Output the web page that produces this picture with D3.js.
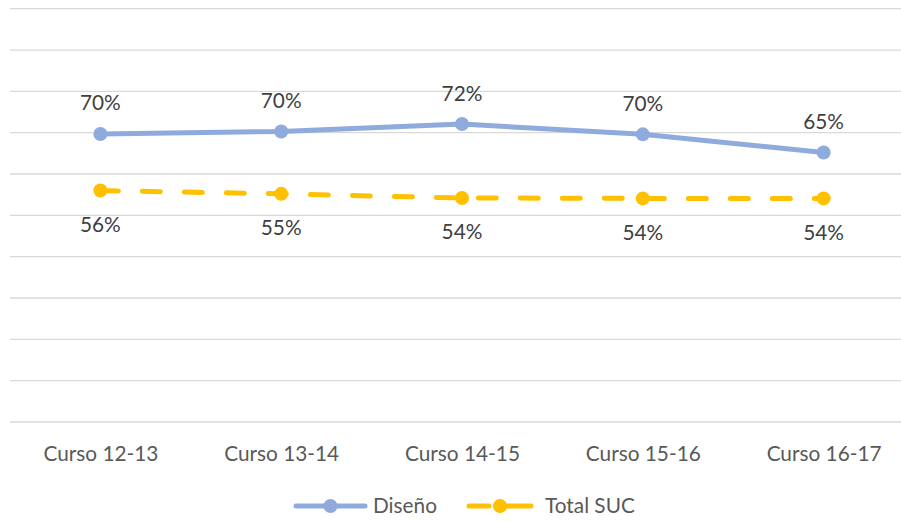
<!DOCTYPE html>
<html>
<head>
<meta charset="utf-8">
<script src="https://cdn.jsdelivr.net/npm/d3@7"></script>
<style>
  body { margin: 0; background: #fff; }
  svg { display: block; font-family: Lato, "Open Sans", sans-serif; }
</style>
</head>
<body>
<svg width="901" height="521"></svg>
<script>
// chart data
var categories = ["Curso 12-13", "Curso 13-14", "Curso 14-15", "Curso 15-16", "Curso 16-17"];
var diseno = [0.697, 0.703, 0.721, 0.696, 0.652];
var totalSuc = [0.560, 0.552, 0.542, 0.541, 0.541];
var seriesNames = ["Diseño", "Total SUC"];
var yTicks = [0, 0.1, 0.2, 0.3, 0.4, 0.5, 0.6, 0.7, 0.8, 0.9, 1];

var svg = d3.select("svg");

var x = d3.scalePoint()
  .domain(categories)
  .range([10, 914])
  .padding(0.5);

var y = d3.scaleLinear()
  .domain([0, 1])
  .range([422, 8.7]);

// gridlines
svg.append("g")
  .selectAll("line")
  .data(yTicks)
  .enter().append("line")
  .attr("x1", 10)
  .attr("x2", 901)
  .attr("y1", function(d) { return y(d); })
  .attr("y2", function(d) { return y(d); })
  .attr("stroke", "#d9d9d9")
  .attr("stroke-width", 1.3);

// category labels
var xAxis = svg.append("g")
  .attr("transform", "translate(0,422)")
  .call(d3.axisBottom(x).tickSize(0).tickPadding(0));
xAxis.select(".domain").remove();
xAxis.selectAll("text")
  .attr("dy", null)
  .attr("y", 38.7)
  .style("font-family", "Lato, sans-serif")
  .style("font-size", "20.8px")
  .style("fill", "#595959");

var line = d3.line()
  .x(function(d, i) { return x(categories[i]); })
  .y(function(d) { return y(d); });

var series = [
  { name: seriesNames[0], values: diseno, color: "#8faadc", dash: null, dy: -23.5 },
  { name: seriesNames[1], values: totalSuc, color: "#ffc000", dash: "18,24", dy: 41.5 }
];

series.forEach(function(s) {
  svg.append("path")
    .datum(s.values)
    .attr("d", line)
    .attr("fill", "none")
    .attr("stroke", s.color)
    .attr("stroke-width", 5)
    .attr("stroke-linecap", "round")
    .attr("stroke-dasharray", s.dash);

  svg.append("g")
    .selectAll("circle")
    .data(s.values)
    .enter().append("circle")
    .attr("cx", function(d, i) { return x(categories[i]); })
    .attr("cy", function(d) { return y(d); })
    .attr("r", 7)
    .attr("fill", s.color);

  svg.append("g")
    .selectAll("text")
    .data(s.values)
    .enter().append("text")
    .attr("x", function(d, i) { return x(categories[i]); })
    .attr("y", function(d) { return y(d) + s.dy; })
    .attr("text-anchor", "middle")
    .style("font-size", "20.8px")
    .style("fill", "#404040")
    .text(function(d) { return Math.round(d * 100) + "%"; });
});

// legend
var legendItems = [
  { name: seriesNames[0], color: "#8faadc", dash: null, x1: 296, x2: 365, tx: 373 },
  { name: seriesNames[1], color: "#ffc000", dash: "18,24", x1: 469, x2: 531, tx: 545 }
];
var legend = svg.append("g");
legendItems.forEach(function(l) {
  if (l.dash) {
    legend.append("line").attr("x1", l.x1).attr("x2", l.x1 + 20).attr("y1", 506).attr("y2", 506)
      .attr("stroke", l.color).attr("stroke-width", 5).attr("stroke-linecap", "round");
    legend.append("line").attr("x1", (l.x1 + l.x2) / 2).attr("x2", l.x2).attr("y1", 506).attr("y2", 506)
      .attr("stroke", l.color).attr("stroke-width", 5).attr("stroke-linecap", "round");
  } else {
    legend.append("line").attr("x1", l.x1).attr("x2", l.x2).attr("y1", 506).attr("y2", 506)
      .attr("stroke", l.color).attr("stroke-width", 5).attr("stroke-linecap", "round");
  }
  legend.append("circle").attr("cx", (l.x1 + l.x2) / 2).attr("cy", 506).attr("r", 7).attr("fill", l.color);
  legend.append("text").attr("x", l.tx).attr("y", 513)
    .style("font-size", "20.8px").style("fill", "#595959").text(l.name);
});
</script>
</body>
</html>
